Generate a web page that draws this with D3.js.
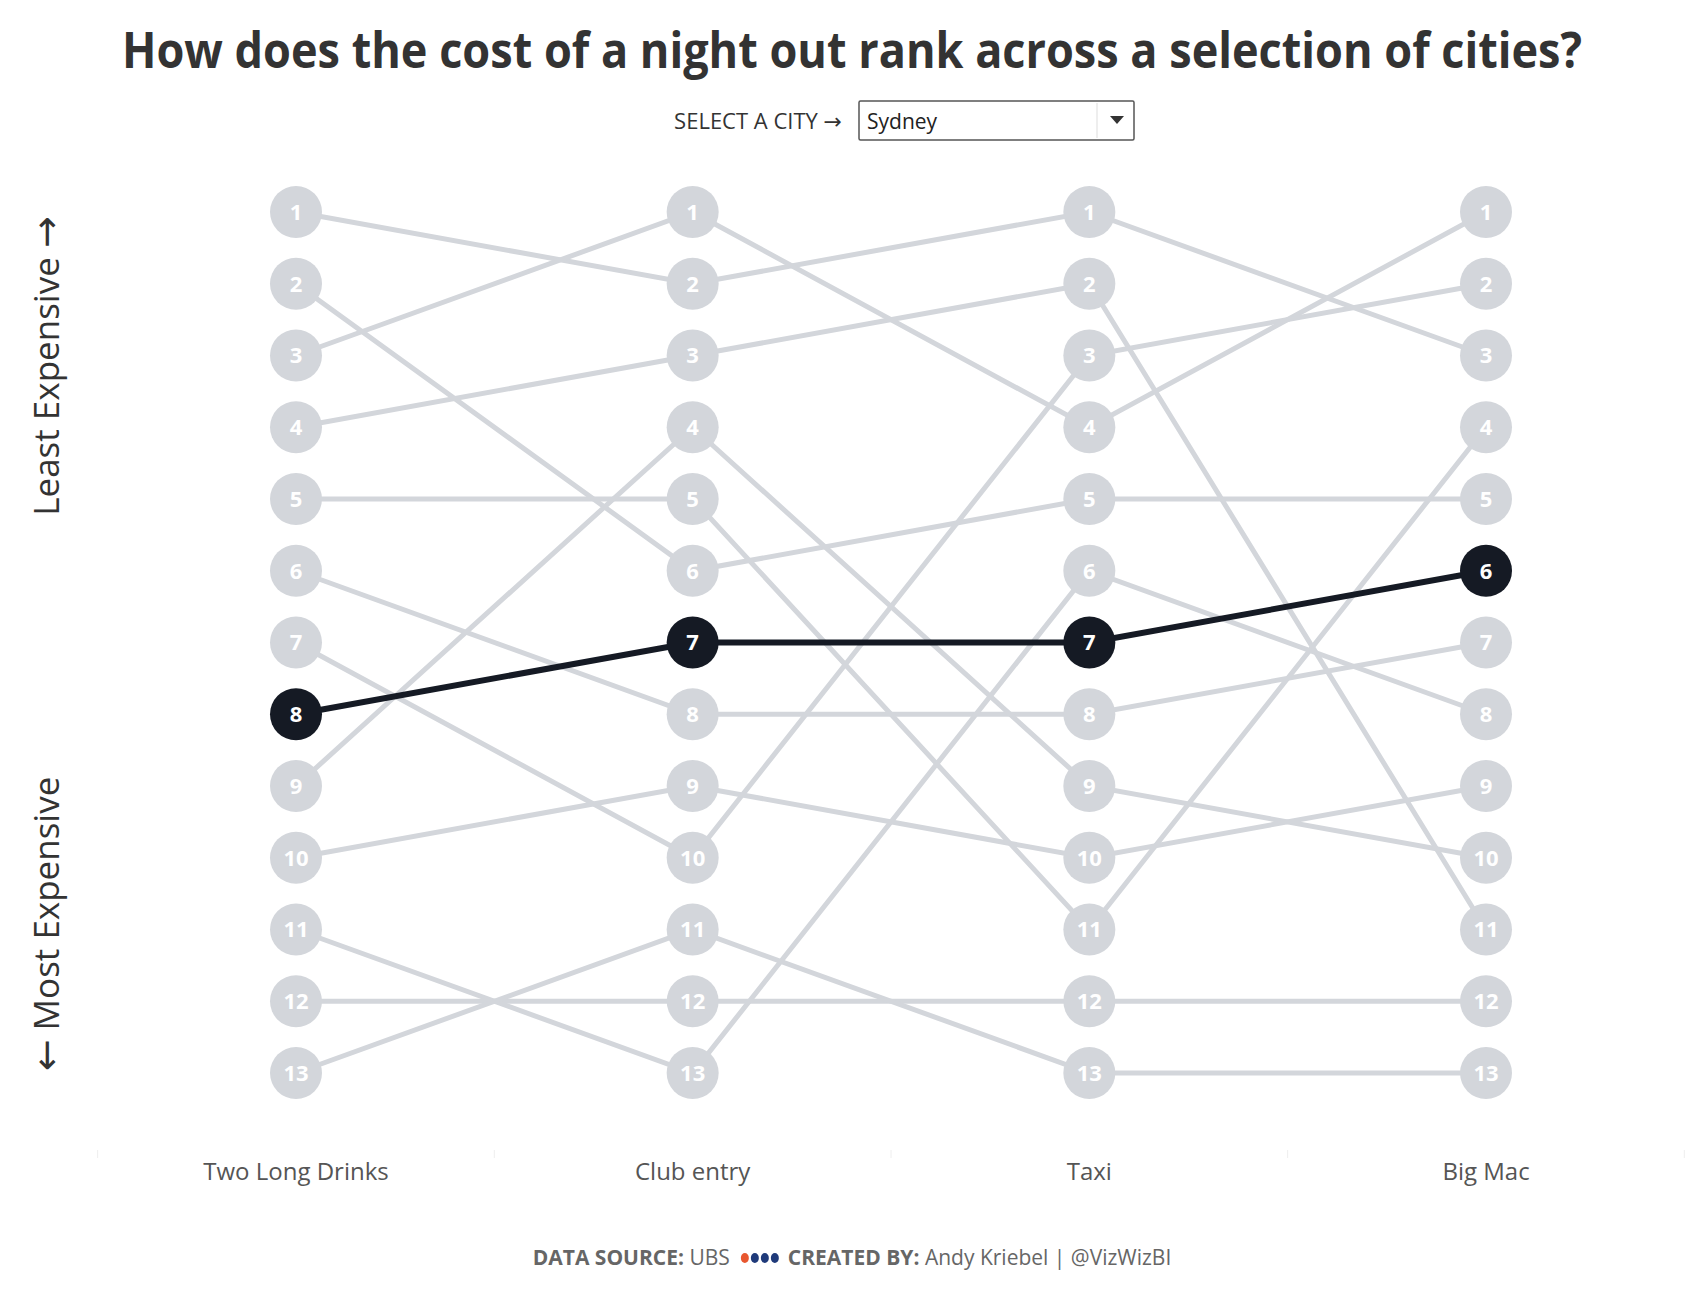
<!DOCTYPE html>
<html>
<head>
<meta charset="utf-8">
<script src="https://cdn.jsdelivr.net/npm/d3@7"></script>
<style>
  html, body { margin: 0; padding: 0; background: #fff; }
  svg { display: block; font-family: "Open Sans", "Noto Sans", sans-serif; }
  .arrow { font-family: "DejaVu Sans", sans-serif; }
</style>
</head>
<body>
<div id="chart"></div>
<script>
// --- datos: rango de cada ciudad por categoría (1 = más barato) ----------
const categories = ["Two Long Drinks", "Club entry", "Taxi", "Big Mac"];
const cities = ["City A", "City B", "City C", "City D", "City E", "City F", "City G",
                "Sydney", "City I", "City J", "City K", "City L", "City M"];
const rankDrinks = [1, 2, 3, 4, 5, 6, 7, 8, 9, 10, 11, 12, 13];
const rankClub   = [2, 6, 1, 3, 5, 8, 10, 7, 4, 9, 13, 12, 11];
const rankTaxi   = [1, 5, 4, 2, 11, 8, 3, 7, 9, 10, 6, 12, 13];
const rankBigMac = [3, 5, 1, 11, 4, 7, 2, 6, 10, 9, 8, 12, 13];
const selected = "Sydney";

const W = 1700, H = 1300;
const GREY = "#d3d6db", DARK = "#151a24", R = 26;

const series = cities.map((c, i) => ({
  city: c,
  values: [rankDrinks[i], rankClub[i], rankTaxi[i], rankBigMac[i]]
    .map((r, k) => ({ cat: categories[k], rank: r }))
}));

const svg = d3.select("#chart").append("svg").attr("width", W).attr("height", H);

const x = d3.scalePoint().domain(categories).range([296, 1486]);
const y = d3.scaleLinear().domain([1, 13]).range([212, 1073]);
const line = d3.line().x(d => x(d.cat)).y(d => y(d.rank));

// título (fuente estrecha tipo Tableau → comprimir a ancho)
const title = svg.append("text").attr("x", 852).attr("y", 68).attr("text-anchor", "middle")
  .attr("font-size", 50).attr("font-weight", 700).attr("fill", "#333")
  .text("How does the cost of a night out rank across a selection of cities?");
if (title.node().getComputedTextLength() > 1460)
  title.attr("textLength", 1460).attr("lengthAdjust", "spacingAndGlyphs");

// selector de ciudad (imitación del dropdown)
const sel = svg.append("text").attr("x", 842).attr("y", 129).attr("text-anchor", "end")
  .attr("font-size", 22).attr("fill", "#333");
sel.append("tspan").text("SELECT A CITY ");
sel.append("tspan").attr("class", "arrow").text("→");
const dd = svg.append("g").attr("transform", "translate(859,101)");
dd.append("rect").attr("width", 275).attr("height", 39).attr("fill", "#fff")
  .attr("stroke", "#555").attr("stroke-width", 1.5).attr("rx", 1.5);
dd.append("line").attr("x1", 238).attr("x2", 238).attr("y1", 2).attr("y2", 37)
  .attr("stroke", "#ddd");
dd.append("path").attr("d", "M251,15L265,15L258,23Z").attr("fill", "#333");
dd.append("text").attr("x", 8).attr("y", 28).attr("font-size", 21).attr("fill", "#222").text(selected);

// etiquetas laterales
const lt = svg.append("text").attr("transform", "translate(59,366) rotate(-90)").attr("text-anchor", "middle")
  .attr("font-size", 35).attr("fill", "#333");
lt.append("tspan").text("Least Expensive ");
lt.append("tspan").attr("class", "arrow").attr("font-size", 38).text("→");
const mt = svg.append("text").attr("transform", "translate(59,924) rotate(-90)").attr("text-anchor", "middle")
  .attr("font-size", 35).attr("fill", "#333");
mt.append("tspan").attr("class", "arrow").attr("font-size", 38).text("←");
mt.append("tspan").text(" Most Expensive");

// líneas grises, luego la ciudad seleccionada encima
const others = series.filter(s => s.city !== selected);
const hi = series.find(s => s.city === selected);

svg.append("g").selectAll("path").data(others).join("path")
  .attr("d", d => line(d.values)).attr("fill", "none")
  .attr("stroke", GREY).attr("stroke-width", 5);

const nodes = svg.append("g").selectAll("g")
  .data(others.flatMap(s => s.values)).join("g")
  .attr("transform", d => `translate(${x(d.cat)},${y(d.rank)})`);
nodes.append("circle").attr("r", R).attr("fill", GREY);
nodes.append("text").attr("text-anchor", "middle").attr("dy", "0.36em")
  .attr("font-size", 22).attr("font-weight", 700).attr("fill", "#fff").text(d => d.rank);

svg.append("path").attr("d", line(hi.values)).attr("fill", "none")
  .attr("stroke", DARK).attr("stroke-width", 6);
const hn = svg.append("g").selectAll("g").data(hi.values).join("g")
  .attr("transform", d => `translate(${x(d.cat)},${y(d.rank)})`);
hn.append("circle").attr("r", R).attr("fill", DARK);
hn.append("text").attr("text-anchor", "middle").attr("dy", "0.36em")
  .attr("font-size", 22).attr("font-weight", 700).attr("fill", "#fff").text(d => d.rank);

// eje de categorías abajo
const xAxis = svg.append("g").attr("transform", "translate(0,1150)");
const step = x.step();
const dividers = [x(categories[0]) - step / 2].concat(categories.map(c => x(c) + step / 2));
xAxis.selectAll("line").data(dividers).join("line")
  .attr("x1", d => d).attr("x2", d => d).attr("y1", 0).attr("y2", 8)
  .attr("stroke", "#eee");
xAxis.selectAll("text").data(categories).join("text")
  .attr("x", d => x(d)).attr("y", 30).attr("text-anchor", "middle")
  .attr("font-size", 24).attr("fill", "#555").text(d => d);

// pie
const GAP = 58;
const foot = svg.append("text").attr("x", 852).attr("y", 1265).attr("text-anchor", "middle")
  .attr("font-size", 21).attr("fill", "#666");
foot.append("tspan").attr("font-weight", 700).text("DATA SOURCE: ");
foot.append("tspan").text("UBS");
foot.append("tspan").attr("font-weight", 700).attr("dx", GAP).text("CREATED BY: ");
foot.append("tspan").text("Andy Kriebel | @VizWizBI");
const fw = foot.node().getComputedTextLength();
// puntos de colores entre UBS y CREATED BY
const dotColors = ["#e8572f", "#1f3a7a", "#1f3a7a", "#1f3a7a"];
const ubsEnd = foot.node().getSubStringLength(0, "DATA SOURCE: UBS".length);
const x0 = 852 - (fw + GAP) / 2 + ubsEnd + 15;
svg.append("g").selectAll("ellipse").data(dotColors).join("ellipse")
  .attr("cx", (d, i) => x0 + i * 10).attr("cy", 1258).attr("rx", 4).attr("ry", 5)
  .attr("fill", d => d);
</script>
</body>
</html>
